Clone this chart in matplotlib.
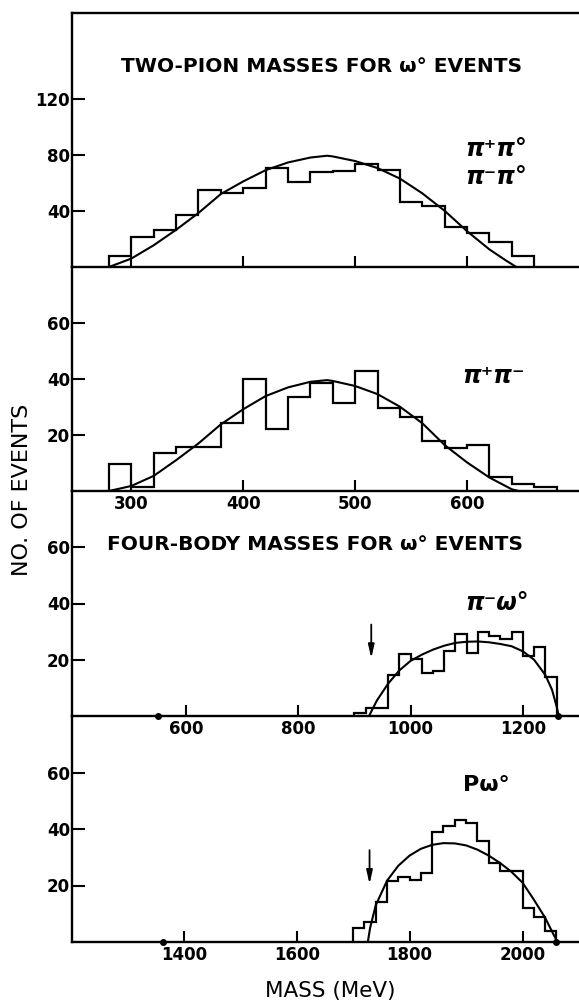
import numpy as np
import matplotlib
matplotlib.use("Agg")
import matplotlib.pyplot as plt

# ==========================
# Data
# ==========================

# two-pion masses, 20 MeV bins
edges_pp0 = np.arange(280, 661, 20)
counts_pp0 = [8, 21.5, 26.2, 37.4, 55, 53, 56, 70.8, 60.5, 67.5,
              68.2, 73.6, 68.8, 46.2, 43.8, 28.8, 24, 18.1, 7.6]
fit_pp0_m = [280, 300, 320, 340, 360, 380, 400, 420, 440, 460, 475,
             480, 500, 520, 540, 560, 580, 600, 620, 635, 644]
fit_pp0_n = [0, 6, 15.5, 26.5, 38.5, 52, 61, 69, 74.5, 78, 79.3,
             78.8, 75.5, 70.5, 63, 52.5, 40, 25.5, 12.5, 4.5, 0]

edges_pm = np.arange(280, 681, 20)
counts_pm = [9.8, 1.4, 13.6, 15.7, 15.6, 24.3, 40, 22.1, 33.6, 38.5,
             31.4, 42.7, 29.5, 26.4, 17.8, 15.3, 16.6, 4.9, 2.6, 1.5]
fit_pm_m = [280, 300, 320, 340, 360, 380, 400, 420, 440, 460, 475,
            480, 500, 520, 540, 560, 580, 600, 620, 640, 646]
fit_pm_n = [0, 1.8, 5.4, 11, 17, 23.8, 29.2, 33.9, 37, 39, 39.6,
            39.3, 37.5, 34.6, 30.1, 24.2, 16.4, 10.2, 4.8, 0.6, 0]

# four-body masses
edges_piw = np.arange(900, 1261, 20)
counts_piw = [1.2, 2.8, 2.8, 14.5, 22, 20.3, 15.3, 16, 23, 29,
              22.5, 30, 28.5, 27.5, 30, 21.5, 24.7, 14]
fit_piw_m = [926, 940, 960, 980, 1000, 1020, 1040, 1060, 1080, 1100,
             1120, 1140, 1160, 1180, 1200, 1220, 1240, 1252, 1260, 1264]
fit_piw_n = [0, 5.5, 11.5, 16.2, 19.6, 21.8, 23.6, 25, 26, 26.4,
             26.5, 26.2, 25.6, 24.8, 23, 20, 14.6, 9.3, 3.5, 0]

edges_pw = np.arange(1700, 2061, 20)
counts_pw = [4.8, 7.2, 14, 21.7, 23, 21.8, 24.6, 39, 41, 43.2,
             42.2, 35.8, 28.1, 25.1, 25.1, 12, 8.9, 3.9]
fit_pw_m = [1726, 1730, 1740, 1760, 1780, 1800, 1820, 1840, 1860, 1880,
            1900, 1920, 1940, 1960, 1980, 2000, 2020, 2040, 2055, 2062]
fit_pw_n = [0, 5, 13, 21.7, 27, 30.6, 33, 34.4, 35, 34.9,
            34.2, 32.7, 30.6, 28, 24.9, 21, 15, 8.6, 2.6, 0]

thresholds_piw = [930]
thresholds_pw = [1729]
dots_piw = [550, 1262]
dots_pw = [1363, 2060]

# ==========================
# Figure layout (pixels)
# ==========================

W, H = 579, 1001
LEFT = 72
fig = plt.figure(figsize=(W / 100, H / 100), dpi=100)


def make_axes(top, bottom):
    return fig.add_axes([LEFT / W, 1 - bottom / H, 1 - LEFT / W, (bottom - top) / H])


ax1 = make_axes(13, 267)
ax2 = make_axes(267, 491)
ax3 = make_axes(491, 716)
ax4 = make_axes(716, 942)

tick_font = dict(family="DejaVu Sans", weight="bold", size=12)
pi_font = dict(family="DejaVu Sans", weight="bold", style="italic", size=17)

for ax in (ax1, ax2, ax3, ax4):
    ax.set_facecolor("none")
    ax.spines["right"].set_visible(False)
    ax.spines["top"].set_visible(ax is ax1)
    for s in ax.spines.values():
        s.set_linewidth(1.7)
    ax.tick_params(axis="y", direction="in", length=9, width=1.5, pad=1.5)
    ax.tick_params(axis="x", direction="in", length=8, width=1.5, pad=3)

ax1.set_xlim(247, 700)
ax1.set_ylim(0, 181)
ax2.set_xlim(247, 700)
ax2.set_ylim(0, 80)
ax3.set_xlim(397, 1300)
ax3.set_ylim(0, 80)
ax4.set_xlim(1202, 2100)
ax4.set_ylim(0, 80)

ax1.set_yticks([40, 80, 120])
for ax in (ax2, ax3, ax4):
    ax.set_yticks([20, 40, 60])
ax1.set_xticks([300, 400, 500, 600])
ax1.set_xticklabels([])
ax2.set_xticks([300, 400, 500, 600])
ax3.set_xticks([600, 800, 1000, 1200])
ax4.set_xticks([1400, 1600, 1800, 2000])

for ax in (ax1, ax2, ax3, ax4):
    for lab in ax.get_xticklabels() + ax.get_yticklabels():
        lab.set(**tick_font)

# histograms and fitted curves
ax1.stairs(counts_pp0, edges_pp0, color="black", lw=1.6)
ax1.plot(fit_pp0_m, fit_pp0_n, color="black", lw=1.5)
ax2.stairs(counts_pm, edges_pm, color="black", lw=1.6)
ax2.plot(fit_pm_m, fit_pm_n, color="black", lw=1.5)
ax3.stairs(counts_piw, edges_piw, color="black", lw=1.6)
ax3.plot(fit_piw_m, fit_piw_n, color="black", lw=1.5)
ax4.stairs(counts_pw, edges_pw, color="black", lw=1.6)
ax4.plot(fit_pw_m, fit_pw_n, color="black", lw=1.5)

# threshold arrows and end dots
for ax, xs, dots in ((ax3, thresholds_piw, dots_piw), (ax4, thresholds_pw, dots_pw)):
    for x in xs:
        ax.annotate("", xy=(x, 19.5), xytext=(x, 33.5),
                    arrowprops=dict(arrowstyle="-|>,head_length=0.8,head_width=0.18",
                                    color="black", lw=1.3))
    ax.plot(dots, [0] * len(dots), "o", color="black", ms=4, clip_on=False, zorder=5)

# labels
ax1.text(626, 84, "π⁺π°", ha="center", va="center", **pi_font)
ax1.text(626, 64, "π⁻π°", ha="center", va="center", **pi_font)
ax2.text(624, 41, "π⁺π⁻", ha="center", va="center", **pi_font)
ax3.text(1154, 40, "π⁻ω°", ha="center", va="center", **pi_font)
ax4.text(1936, 55.7, "Pω°", ha="center", va="center",
         family="DejaVu Sans", weight="bold", size=16)

fig.text(322 / W, 1 - 67 / H, "TWO-PION MASSES FOR ω° EVENTS",
         ha="center", va="center", family="DejaVu Sans", weight="bold", size=14.5)
fig.text(315 / W, 1 - 545 / H, "FOUR-BODY MASSES FOR ω° EVENTS",
         ha="center", va="center", family="DejaVu Sans", weight="bold", size=14.5)
fig.text(330 / W, 1 - 991 / H, "MASS (MeV)",
         ha="center", va="center", family="DejaVu Sans", size=15.5)
fig.text(22 / W, 1 - 490 / H, "NO. OF EVENTS", rotation=90,
         ha="center", va="center", family="DejaVu Sans", size=16)

fig.savefig("out.png", dpi=100)
